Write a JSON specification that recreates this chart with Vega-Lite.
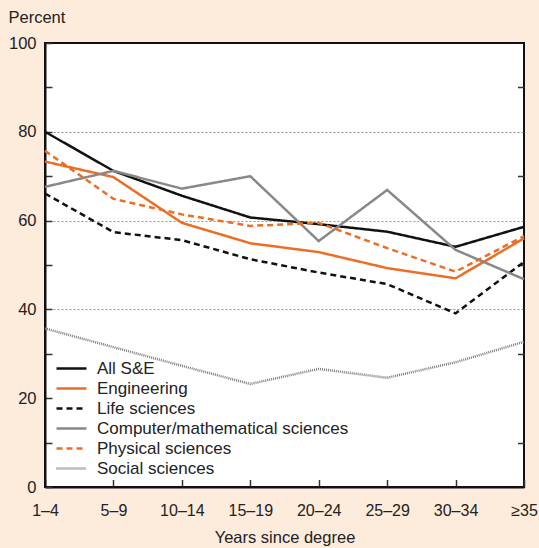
{
  "$schema": "https://vega.github.io/schema/vega-lite/v6.json",
  "width": 479,
  "height": 444,
  "autosize": "none",
  "padding": {"left": 45, "top": 43, "right": 15, "bottom": 61},
  "background": "#fdebdc",
  "config": {
    "font": "Liberation Sans",
    "view": {"stroke": "#111111", "strokeWidth": 2, "fill": "white"},
    "axis": {"domainColor": "#111111", "domainWidth": 2, "tickColor": "#333333", "tickWidth": 1.5, "labelColor": "#222222", "labelFontSize": 16, "titleFontSize": 16.5, "titleFontWeight": "normal", "titleColor": "#222222"}
  },
  "data": {"values": [
    {"years": "1–4", "field": "All S&E", "pct": 80.0},
    {"years": "5–9", "field": "All S&E", "pct": 71.2},
    {"years": "10–14", "field": "All S&E", "pct": 65.6},
    {"years": "15–19", "field": "All S&E", "pct": 60.7},
    {"years": "20–24", "field": "All S&E", "pct": 59.2},
    {"years": "25–29", "field": "All S&E", "pct": 57.5},
    {"years": "30–34", "field": "All S&E", "pct": 54.1},
    {"years": "≥35", "field": "All S&E", "pct": 58.6},
    {"years": "1–4", "field": "Engineering", "pct": 73.3},
    {"years": "5–9", "field": "Engineering", "pct": 69.8},
    {"years": "10–14", "field": "Engineering", "pct": 59.5},
    {"years": "15–19", "field": "Engineering", "pct": 54.9},
    {"years": "20–24", "field": "Engineering", "pct": 52.9},
    {"years": "25–29", "field": "Engineering", "pct": 49.3},
    {"years": "30–34", "field": "Engineering", "pct": 47.0},
    {"years": "≥35", "field": "Engineering", "pct": 56.0},
    {"years": "1–4", "field": "Life sciences", "pct": 66.1},
    {"years": "5–9", "field": "Life sciences", "pct": 57.4},
    {"years": "10–14", "field": "Life sciences", "pct": 55.6},
    {"years": "15–19", "field": "Life sciences", "pct": 51.3},
    {"years": "20–24", "field": "Life sciences", "pct": 48.3},
    {"years": "25–29", "field": "Life sciences", "pct": 45.7},
    {"years": "30–34", "field": "Life sciences", "pct": 39.1},
    {"years": "≥35", "field": "Life sciences", "pct": 50.7},
    {"years": "1–4", "field": "Computer/mathematical sciences", "pct": 67.6},
    {"years": "5–9", "field": "Computer/mathematical sciences", "pct": 71.2},
    {"years": "10–14", "field": "Computer/mathematical sciences", "pct": 67.2},
    {"years": "15–19", "field": "Computer/mathematical sciences", "pct": 70.0},
    {"years": "20–24", "field": "Computer/mathematical sciences", "pct": 55.4},
    {"years": "25–29", "field": "Computer/mathematical sciences", "pct": 66.9},
    {"years": "30–34", "field": "Computer/mathematical sciences", "pct": 53.4},
    {"years": "≥35", "field": "Computer/mathematical sciences", "pct": 46.8},
    {"years": "1–4", "field": "Physical sciences", "pct": 75.7},
    {"years": "5–9", "field": "Physical sciences", "pct": 64.9},
    {"years": "10–14", "field": "Physical sciences", "pct": 61.4},
    {"years": "15–19", "field": "Physical sciences", "pct": 58.8},
    {"years": "20–24", "field": "Physical sciences", "pct": 59.5},
    {"years": "25–29", "field": "Physical sciences", "pct": 53.8},
    {"years": "30–34", "field": "Physical sciences", "pct": 48.5},
    {"years": "≥35", "field": "Physical sciences", "pct": 56.5},
    {"years": "1–4", "field": "Social sciences", "pct": 35.7},
    {"years": "5–9", "field": "Social sciences", "pct": 31.5},
    {"years": "10–14", "field": "Social sciences", "pct": 27.3},
    {"years": "15–19", "field": "Social sciences", "pct": 23.2},
    {"years": "20–24", "field": "Social sciences", "pct": 26.6},
    {"years": "25–29", "field": "Social sciences", "pct": 24.6},
    {"years": "30–34", "field": "Social sciences", "pct": 28.1},
    {"years": "≥35", "field": "Social sciences", "pct": 32.7}
  ]},
  "encoding": {
    "x": {"field": "years", "type": "ordinal", "sort": null,
      "scale": {"type": "point", "padding": 0},
      "axis": {"title": "Years since degree", "labelAngle": 0, "tickSize": -7.5, "labelPadding": 23, "titlePadding": 11}}
  },
  "layer": [
    {
      "mark": {"type": "line", "strokeCap": "butt"},
      "encoding": {
        "y": {"field": "pct", "type": "quantitative",
          "scale": {"domain": [0, 100], "nice": false},
          "axis": {"title": "Percent", "titleAngle": 0, "titleAlign": "left", "titleBaseline": "alphabetic", "titleX": -37, "titleY": -21,
            "values": [0, 10, 20, 30, 40, 50, 60, 70, 80, 90, 100],
            "labelExpr": "datum.value % 20 == 0 ? datum.label : ''",
            "tickSize": -7, "labelPadding": 16, "labelFontSize": 16.5,
            "grid": true, "gridColor": "#888888", "gridDash": [2, 2], "gridWidth": 0.9,
            "gridOpacity": {"expr": "(datum.value == 40 || datum.value == 60 || datum.value == 80) ? 1 : 0"}}},
        "color": {"field": "field", "type": "nominal",
          "scale": {"domain": ["All S&E", "Engineering", "Life sciences", "Computer/mathematical sciences", "Physical sciences", "Social sciences"],
            "range": ["#111111", "#eb6e24", "#111111", "#888888", "#eb6e24", "#7c7c7c"]},
          "legend": {"title": null, "orient": "none", "legendX": 10, "legendY": 309, "symbolType": "M-1.5,0H1.5", "symbolSize": 400, "symbolStrokeWidth": 2.5, "labelFontSize": 17, "labelColor": "#222222", "labelLimit": 0, "rowPadding": 0, "padding": 5, "labelOffset": 14}},
        "strokeDash": {"field": "field", "type": "nominal",
          "scale": {"domain": ["All S&E", "Engineering", "Life sciences", "Computer/mathematical sciences", "Physical sciences", "Social sciences"],
            "range": [[1, 0], [1, 0], [6, 4], [1, 0], [6, 4], [1, 1]]}},
        "strokeWidth": {"field": "field", "type": "nominal",
          "scale": {"domain": ["All S&E", "Engineering", "Life sciences", "Computer/mathematical sciences", "Physical sciences", "Social sciences"],
            "range": [2.5, 2.5, 2.5, 2.5, 2.5, 1.8]}}
      }
    },
    {
      "mark": {"type": "line", "opacity": 0},
      "encoding": {
        "detail": {"field": "field"},
        "y": {"field": "pct", "type": "quantitative",
          "scale": {"domain": [0, 100], "nice": false},
          "axis": {"orient": "right", "title": null, "labels": false, "domain": false, "grid": false,
            "values": [10, 30, 50, 70, 90], "tickSize": -6.5}}
      }
    }
  ],
  "resolve": {"axis": {"y": "independent"}}
}
